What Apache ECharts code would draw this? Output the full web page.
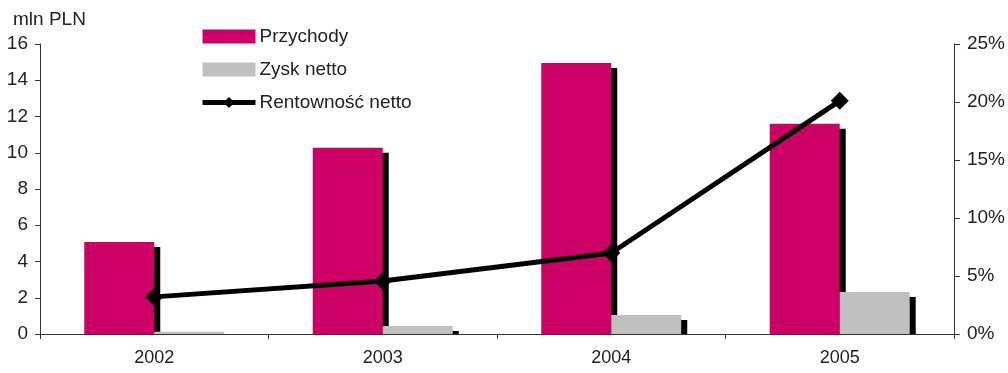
<!DOCTYPE html>
<html>
<head>
<meta charset="utf-8">
<script src="https://cdn.jsdelivr.net/npm/echarts@6/dist/echarts.min.js"></script>
<style>html,body{margin:0;padding:0;background:#fff}#c{width:1008px;height:373px}</style>
</head>
<body>
<div id="c"></div>
<script>
const categories = ['2002', '2003', '2004', '2005'];
const przychody = [5.08, 10.27, 14.95, 11.6];
const zyskNetto = [0.13, 0.44, 1.05, 2.32];
const rentownosc = [0.032, 0.0457, 0.0698, 0.201];

const FONT = '"Liberation Sans", Arial, sans-serif';
const chart = echarts.init(document.getElementById('c'));
const barShadow = { shadowColor: '#000', shadowBlur: 0, shadowOffsetX: 6, shadowOffsetY: 5 };
chart.setOption({
  animation: false,
  textStyle: { fontFamily: FONT },
  title: { text: 'mln PLN', left: 8, top: 5, textStyle: { fontSize: 19, fontWeight: 'normal', color: '#222', fontFamily: FONT } },
  legend: {
    orient: 'vertical', left: 195, top: 22, itemWidth: 53, itemHeight: 14, itemGap: 14,
    textStyle: { fontSize: 19, color: '#222', fontFamily: FONT, padding: [0, 0, 0, -1] },
    data: [
      { name: 'Przychody', icon: 'rect' },
      { name: 'Zysk netto', icon: 'rect' },
      { name: 'Rentowność netto', lineStyle: { width: 5, color: '#000' }, itemStyle: { color: '#000' } }
    ]
  },
  grid: { left: 40, right: 54, top: 44, bottom: 39, containLabel: false },
  xAxis: {
    type: 'category', data: categories, z: 10,
    axisLine: { lineStyle: { color: '#333', width: 1 } },
    axisTick: { show: true, length: 5, lineStyle: { color: '#333' } },
    axisLabel: { fontSize: 18, color: '#222', margin: 15, fontFamily: FONT }
  },
  yAxis: [
    {
      type: 'value', min: 0, max: 16, interval: 2,
      axisLine: { show: true, lineStyle: { color: '#333' } },
      axisTick: { show: true, length: 5, lineStyle: { color: '#333' } },
      splitLine: { show: false },
      axisLabel: { fontSize: 19, color: '#222', margin: 12, fontFamily: FONT }
    },
    {
      type: 'value', min: 0, max: 0.25, interval: 0.05, position: 'right',
      axisLine: { show: true, lineStyle: { color: '#333' } },
      axisTick: { show: true, length: 6, lineStyle: { color: '#333' } },
      splitLine: { show: false },
      axisLabel: { fontSize: 19, color: '#222', margin: 13, fontFamily: FONT,
        formatter: v => Math.round(v * 100) + '%' }
    }
  ],
  graphic: [{
    type: 'rect', z: 5, silent: true,
    shape: { x: 40, y: 335, width: 914, height: 7 },
    style: { fill: '#fff' }
  }],
  series: [
    { name: 'Przychody', type: 'bar', data: przychody, barWidth: 70, barGap: '0%',
      itemStyle: Object.assign({ color: '#CC0066' }, barShadow) },
    { name: 'Zysk netto', type: 'bar', data: zyskNetto, barWidth: 70, barGap: '0%',
      itemStyle: Object.assign({ color: '#C0C0C0' }, barShadow) },
    { name: 'Rentowność netto', type: 'line', yAxisIndex: 1, data: rentownosc,
      symbol: 'diamond', symbolSize: 18, z: 4,
      lineStyle: { color: '#000', width: 5 }, itemStyle: { color: '#000' } }
  ]
});
</script>
</body>
</html>
